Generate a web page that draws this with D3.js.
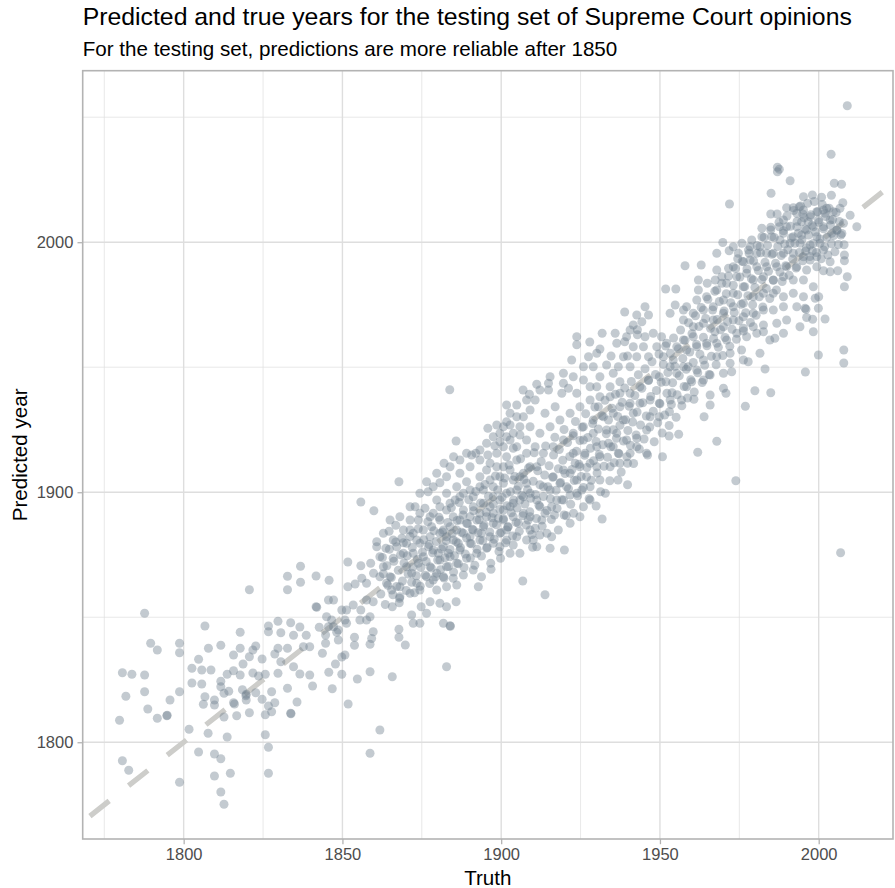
<!DOCTYPE html>
<html>
<head>
<meta charset="utf-8">
<script src="https://cdn.jsdelivr.net/npm/d3@7"></script>
<style>
  body { margin: 0; background: #fff; }
  text { font-family: "Liberation Sans", Arial, Helvetica, sans-serif; }
</style>
</head>
<body>
<script>
// text of the chart
var titleText = "Predicted and true years for the testing set of Supreme Court opinions";
var subtitleText = "For the testing set, predictions are more reliable after 1850";
var xLabel = "Truth";
var yLabel = "Predicted year";

// ticks
var xTicks = [1800, 1850, 1900, 1950, 2000];
var xMinorTicks = [1775, 1825, 1875, 1925, 1975];
var yTicks = [1800, 1900, 2000];
var yMinorTicks = [1850, 1950, 2050];

// [truth, predicted] per opinion
var earlyCases = [
  [1787.7,1851.6],[1789.6,1839.6],[1791.7,1836.9],[1798.7,1839.6],[1798.7,1835.8],[1806.7,1846.5],[1807.8,1837.6],[1811.7,1838.8],
  [1817.8,1844.0],[1820.7,1861.0],[1832.7,1866.4],[1836.8,1870.4],[1832.7,1861.0],[1836.8,1864.0],[1841.7,1866.5],[1845.8,1864.8],
  [1841.7,1854.2],[1841.9,1854.0],[1780.7,1827.8],[1783.7,1827.2],[1787.7,1826.9],[1781.8,1818.4],[1787.7,1820.2],[1788.7,1813.3],
  [1791.7,1809.6],[1794.7,1810.6],[1794.8,1810.8],[1795.7,1816.9],[1798.7,1820.2],[1779.8,1808.8],[1802.6,1829.6],[1805.7,1828.9],
  [1808.6,1828.9],[1802.6,1823.7],[1805.7,1823.3],[1804.7,1833.2],[1806.7,1818.2],[1806.2,1815.2],[1809.7,1816.9],[1809.7,1814.9],
  [1811.7,1824.4],[1811.7,1822.2],[1812.7,1819.6],[1813.7,1827.2],[1815.7,1828.6],[1815.7,1834.9],[1817.8,1837.6],[1817.8,1826.9],
  [1818.7,1831.3],[1820.7,1834.2],[1821.8,1836.9],[1822.7,1838.5],[1824.7,1833.3],[1825.7,1827.2],[1826.7,1846.5],[1826.7,1844.2],
  [1829.7,1848.4],[1830.6,1843.8],[1833.7,1847.8],[1834.6,1842.8],[1836.6,1846.1],[1838.6,1842.8],[1839.7,1838.2],[1837.7,1838.2],
  [1829.7,1837.6],[1828.7,1835.3],[1830.6,1832.2],[1829.7,1827.6],[1832.7,1837.6],[1834.6,1830.2],[1836.6,1827.3],[1839.7,1826.9],
  [1840.6,1822.5],[1832.7,1821.6],[1835.7,1816.1],[1827.7,1820.2],[1824.7,1817.2],[1826.7,1814.5],[1828.7,1815.8],[1827.7,1812.2],
  [1825.7,1811.0],[1820.7,1811.8],[1816.7,1810.6],[1812.7,1810.1],[1815.7,1815.8],[1819.7,1819.2],[1819.7,1816.9],[1822.7,1819.8],
  [1823.6,1826.5],[1821.8,1827.7],[1833.7,1811.6],[1833.8,1811.4],[1801.7,1805.2],[1807.7,1803.6],[1813.7,1802.1],[1825.7,1803.0],
  [1826.7,1798.0],[1780.7,1792.6],[1782.7,1788.8],[1798.7,1784.0],[1804.7,1796.1],[1809.7,1795.3],[1811.7,1793.4],[1809.7,1786.5],
  [1814.7,1787.6],[1811.7,1780.1],[1812.7,1775.2],[1826.7,1787.6],[1845.7,1828.0],[1846.8,1821.4],[1849.8,1827.2],[1851.8,1815.3],
  [1814.2,1820.4],[1816.0,1815.3],[1819.6,1818.6],[1818.5,1821.0],[1854.7,1825.3],[1858.7,1828.2],[1858.7,1795.6],[1861.8,1804.9],
  [1853.8,1842.0],[1853.8,1838.8],[1858.7,1839.2],[1859.7,1844.2],[1858.7,1850.2],[1859.7,1856.2],[1847.8,1831.3],[1849.8,1834.1],
  [1850.8,1834.9],[1843.7,1835.6],[1844.7,1839.6],[1844.7,1842.9],[1846.6,1848.9],[1848.7,1840.9],[1848.7,1844.9],[1850.8,1848.9],
  [1851.3,1852.9],[1849.8,1852.9],[1847.2,1856.9],[1845.6,1856.9],[1842.7,1846.0],[1845.0,1850.2],[1845.6,1846.2],[1847.2,1846.2],
  [1848.2,1844.0],[1851.3,1847.6],[1857.6,1848.9],[1855.5,1848.9],[1855.8,1852.9],[1853.4,1854.9],[1857.6,1856.9],[1859.2,1841.5]
];

var midCases = [
  [1865.7,1854.2],[1867.9,1855.8],[1867.8,1845.2],[1867.8,1842.0],[1869.8,1838.9],[1871.8,1850.9],[1872.3,1847.6],[1874.4,1847.6],
  [1874.8,1854.2],[1876.5,1851.6],[1877.6,1856.2],[1880.7,1855.6],[1881.8,1847.6],[1883.9,1846.6],[1884.0,1846.4],[1882.8,1854.2],
  [1885.8,1856.2],[1882.8,1830.2],[1865.7,1826.2],[1913.8,1859.0],
  [1883.8,1941.0],[1867.8,1904.2],[1855.8,1896.1],[1859.9,1892.6],[1851.7,1872.1],[1851.7,1862.2],[1855.8,1870.6],[1864.7,1884.4],
  [1866.8,1886.8],[1860.8,1880.2],[1860.8,1878.2],[1863.7,1877.6],[1861.8,1874.2],[1858.9,1871.6],[1859.8,1867.6],[1857.6,1863.6],
  [1856.1,1865.6],[1854.0,1863.3],[1862.9,1870.2],[1865.0,1866.2],[1868.1,1862.2],[1866.0,1873.6],[1869.2,1875.6],[1868.7,1881.6],
  [1871.3,1884.9],[1872.9,1894.2],[1876.0,1893.6],[1873.9,1888.9],[1876.5,1904.2],[1877.0,1900.2],[1879.7,1907.6],[1880.7,1903.8],
  [1882.0,1911.6],[1883.9,1910.2],[1885.8,1920.5],[1885.0,1914.2],[1887.0,1907.6],[1890.7,1914.9],[1892.0,1915.6],[1895.8,1925.6],
  [1895.8,1914.9],[1898.0,1918.6],[1899.6,1920.2],[1901.7,1928.2],[1902.8,1926.9],[1904.9,1934.9],[1906.9,1940.9],[1908.9,1939.2],
  [1907.0,1930.2],[1905.9,1922.9],[1903.8,1917.6],[1901.7,1914.2],[1900.7,1910.2],[1898.6,1910.2],[1895.4,1908.9],[1893.3,1906.2],
  [1889.1,1904.2],[1886.0,1902.2],[1882.8,1899.6],[1879.7,1896.9],[1878.6,1891.6],[1880.7,1888.9],[1882.8,1892.9],[1885.5,1896.9],
  [1888.1,1899.6],[1891.2,1898.2],[1894.4,1900.9],[1897.5,1902.2],[1900.7,1903.6],[1903.8,1904.9],[1907.0,1907.6],[1909.1,1910.2],
  [1908.0,1915.6],[1904.9,1912.9],[1899.6,1896.9],[1902.8,1894.2],[1905.9,1896.9],[1909.1,1899.6],[1896.5,1894.2],[1893.3,1891.6],
  [1890.2,1890.2],[1887.0,1888.9],[1883.9,1886.2],[1880.7,1883.6],[1877.6,1882.2],[1874.4,1879.6],[1872.3,1875.6],[1875.5,1874.2],
  [1878.6,1876.9],[1881.8,1878.2],[1884.9,1880.9],[1888.1,1883.6],[1891.2,1884.9],[1894.4,1886.2],[1897.5,1887.6],[1900.7,1888.9],
  [1903.8,1890.2],[1907.0,1891.6],[1909.1,1890.2],[1904.9,1882.2],[1909.1,1884.9],[1909.9,1878.0],[1903.8,1878.9],[1899.8,1873.6],
  [1896.8,1869.2],[1893.8,1866.2],[1892.8,1862.2],[1895.4,1877.6],[1892.3,1875.6],[1889.1,1873.6],[1886.0,1871.6],[1882.8,1870.2],
  [1879.7,1867.6],[1876.5,1866.2],[1873.4,1863.6],[1879.7,1860.9],[1886.0,1862.9],[1882.8,1862.2],[1906.8,1864.5],
  [1870.2,1870.2],[1871.8,1867.6],[1873.9,1871.6],[1877.6,1870.2],[1880.7,1872.9],[1883.9,1874.2],[1887.0,1876.9],[1890.2,1879.6],
  [1893.3,1880.9],[1896.5,1882.2],[1899.6,1883.6],[1901.7,1884.9],[1899.6,1878.2],[1902.8,1875.6],[1905.9,1875.6],[1908.0,1880.9],
  [1891.2,1868.9],[1888.1,1866.9],[1884.9,1865.6],[1881.8,1866.2],[1878.6,1864.9],[1874.4,1860.9],[1871.3,1859.6],[1868.1,1858.2],
  [1865.5,1860.9],[1863.9,1863.6],[1861.8,1866.2],[1870.2,1879.6],[1867.1,1878.2],[1872.3,1883.6],[1875.5,1884.9],[1878.1,1886.2],
  [1881.8,1884.9],[1884.9,1890.2],[1888.1,1892.9],[1891.2,1894.2],[1894.4,1895.6],[1897.5,1898.2],[1901.7,1899.6],[1904.9,1900.9],
  [1908.0,1903.6],[1905.9,1906.2],[1902.8,1908.9],[1899.6,1906.2],[1896.5,1904.9],[1893.3,1902.2],[1890.2,1900.9],[1887.0,1898.2],
  [1883.9,1895.6],[1880.7,1894.2],[1877.6,1890.2],[1874.4,1891.6],[1871.3,1888.9],[1869.2,1884.9],[1866.0,1880.9],[1887.0,1912.9],
  [1890.2,1910.2],[1893.3,1912.9],[1896.5,1911.6],[1898.6,1915.6],[1900.7,1918.2],[1902.8,1920.9],[1904.9,1918.2],[1908.0,1920.9],
  [1909.1,1926.2],[1905.9,1926.2],[1903.8,1923.6],[1901.7,1922.2],[1899.6,1923.6],[1897.5,1922.2],[1895.4,1919.6],[1893.3,1916.9],
  [1889.1,1915.6],[1882.8,1906.2],[1878.6,1902.2],[1874.4,1899.6],[1871.3,1894.2],[1868.1,1890.2],[1865.0,1888.9],[1862.9,1883.6],
  [1909.1,1932.9],[1904.9,1930.2],[1902.8,1931.6],[1901.7,1934.9],[1900.7,1926.2],[1898.6,1926.9],[1908.0,1936.9],
  [1897.5,1891.6],[1900.7,1892.9],[1903.8,1895.6],[1907.0,1898.2],[1901.7,1880.9],[1897.5,1879.6],[1893.8,1883.6],[1890.2,1882.2],
  [1886.5,1879.6],[1883.4,1875.6],[1880.2,1875.6],[1877.1,1878.2],[1873.4,1880.9],[1882.8,1882.2],[1886.0,1884.9],[1889.1,1887.6],
  [1892.3,1888.9],[1895.4,1890.2],[1899.1,1889.6],[1902.2,1886.2],[1905.4,1887.6],[1908.5,1888.9]
];

var lateCases = [
  [1938.9,1972.1],[1931.8,1963.6],[1923.8,1962.2],[1923.8,1959.0],[1927.9,1960.1],[1931.1,1957.3],[1934.6,1954.5],[1938.9,1960.2],
  [1942.9,1965.0],[1942.9,1963.0],[1939.8,1954.5],[1911.2,1943.2],[1914.9,1943.6],[1914.9,1940.9],[1910.7,1936.9],[1919.1,1939.6],
  [1922.7,1946.2],[1921.2,1941.6],[1925.9,1944.9],[1930.1,1942.2],[1933.2,1950.9],[1935.3,1947.6],[1937.4,1944.2],[1940.6,1950.2],
  [1942.7,1954.2],[1944.8,1958.2],[1946.4,1954.2],[1947.9,1963.6],[1930.6,1934.2],[1934.3,1938.2],[1937.4,1934.2],[1940.6,1939.6],
  [1943.7,1942.2],[1946.4,1944.9],[1946.9,1930.2],[1945.8,1924.9],[1942.7,1921.6],[1936.9,1915.6],[1939.8,1911.6],[1939.8,1903.0],
  [1936.8,1904.9],[1932.8,1899.6],[1931.8,1889.3],[1929.9,1894.5],[1925.9,1894.2],[1922.8,1891.6],[1919.8,1890.9],[1916.8,1890.9],
  [1919.9,1876.9],[1915.9,1882.2],[1915.4,1877.6],[1912.2,1882.9],[1910.7,1885.6],[1925.4,1900.9],[1921.7,1898.9],[1926.9,1906.2],
  [1930.1,1910.2],[1934.3,1910.2],[1937.4,1911.6],[1933.8,1919.6],[1930.1,1918.2],[1926.4,1915.6],[1923.3,1911.6],[1919.6,1908.9],
  [1916.4,1906.2],[1913.3,1902.2],[1911.2,1896.9],[1913.8,1891.6],[1917.5,1896.9],[1920.6,1902.2],[1923.8,1904.9],[1912.8,1888.9],
  [1910.1,1880.9],[1911.2,1910.2],[1913.3,1915.6],[1916.4,1918.2],[1919.6,1920.9],[1922.7,1923.6],[1925.9,1926.2],[1929.0,1928.9],
  [1932.2,1930.2],[1935.3,1931.6],[1938.5,1928.9],[1941.6,1931.6],[1943.7,1935.6],[1940.6,1935.6],[1937.4,1939.6],[1934.3,1942.2],
  [1931.1,1938.2],[1928.0,1936.9],[1924.8,1934.2],[1921.7,1931.6],[1918.5,1928.9],[1915.4,1926.2],[1912.2,1923.6],[1910.7,1918.2],
  [1913.8,1931.6],[1917.0,1934.2],[1923.8,1939.6],[1928.0,1942.2],[1931.1,1946.2],[1929.0,1950.2],[1925.9,1950.2],[1919.6,1943.6],
  [1936.9,1950.2],[1938.5,1954.2],[1941.6,1958.2],[1945.3,1962.2],[1939.5,1962.2],[1936.4,1959.6],[1935.9,1963.6],[1941.6,1966.9],
  [1944.3,1968.2],[1946.4,1970.9],[1942.7,1970.9],[1945.3,1974.2],[1940.6,1964.9],[1930.1,1955.6],[1927.5,1954.2],[1922.2,1952.9],
  [1919.6,1947.6],[1915.4,1946.2],[1912.2,1940.9],[1922.7,1915.6],[1925.9,1920.9],[1929.0,1923.6],[1933.2,1924.9],[1936.4,1923.6],
  [1939.5,1920.9],[1942.7,1918.2],[1940.6,1915.6],[1935.3,1918.2],[1931.1,1914.2],[1928.0,1911.6],[1924.8,1910.2],[1921.7,1907.6],
  [1918.5,1903.6],[1915.4,1900.9],[1919.6,1896.9],[1923.8,1899.6],[1928.0,1902.2],[1931.1,1904.9],[1928.0,1896.9],[1924.8,1890.2],
  [1921.7,1887.6],[1918.0,1884.9],[1914.4,1883.6],[1911.2,1878.2],[1912.2,1894.2],[1915.9,1894.2],[1945.8,1915.6],
  [1950.8,1914.2],[1952.9,1922.5],[1955.9,1923.2],[1961.9,1916.0],[1967.9,1920.4],[1973.9,1904.6],[1963.9,1930.2],[1960.7,1937.2],
  [1965.8,1938.9],[1965.8,1934.9],[1970.0,1941.6],[1970.8,1939.6],[1976.9,1934.4],[1979.9,1940.6],[1984.9,1939.8],[1983.1,1949.3],
  [1995.8,1948.1],[1999.9,1954.9],[2007.9,1956.9],[2007.9,1951.7],[2006.9,1875.8],[1949.8,1930.2],[1953.0,1932.2],[1949.8,1935.6],
  [1953.8,1939.8],[1951.9,1944.2],[1955.3,1947.6],[1958.9,1950.2],[1960.0,1944.2],[1963.7,1944.9],[1965.8,1946.9],[1970.0,1947.6],
  [1972.6,1948.2],[1972.1,1951.6],[1976.3,1952.9],[1977.8,1952.2],[1981.5,1955.6],[1984.6,1960.9],[1986.2,1961.6],[1975.7,1956.9],
  [1972.1,1955.6],[1967.9,1954.2],[1963.7,1952.9],[1961.6,1948.9],[1957.4,1950.2],[1954.2,1952.9],[1951.1,1954.2],[1949.0,1958.2],
  [1952.1,1959.6],[1955.3,1958.2],[1958.4,1956.9],[1961.6,1958.2],[1964.7,1959.6],[1967.9,1959.6],[1971.0,1960.9],[1974.2,1963.6],
  [1977.3,1962.2],[1980.5,1963.6],[1982.6,1964.2],[1988.9,1963.6],[1998.3,1964.2],[1957.4,1960.9],[1960.5,1962.2],[1967.3,1964.2],
  [1950.5,1962.2],[1949.8,1946.2],[1953.2,1950.2],[1946.9,1936.9],[1953.2,1936.9],[1958.4,1942.2],[1956.8,1936.9]
];

var recentCases = [
  [2009.0,2054.6],[2003.9,2035.2],[1987.0,2030.0],[1987.6,2029.2],[1987.0,2028.2],[1991.0,2024.6],[1971.9,2015.3],[1985.0,2019.6],
  [2004.9,2023.6],[2007.2,2023.2],[2004.0,2018.8],[1995.2,2018.2],[1998.0,2018.9],[2000.9,2018.0],[2002.5,2013.6],[2001.5,2012.9],
  [2007.6,2015.8],[2006.7,2013.6],[2009.9,2010.8],[2012.0,2006.2],[2007.8,2007.6],[2005.7,2004.9],[2007.0,2002.9],[2008.1,1994.9],
  [2008.1,1992.6],[2009.0,1986.2],[2008.1,1982.2],[2003.6,1988.2],[2006.0,1988.6],[2001.5,1988.6],[2003.6,1992.2],[2001.5,1996.9],
  [1999.4,1994.2],[1995.9,1996.5],[1998.0,1996.5],[1989.9,2013.8],[1992.0,2013.8],[1993.9,2014.2],[1984.9,2011.3],[1986.9,2011.3],
  [1988.9,2008.9],[1995.0,2011.3],[1997.3,2010.2],[1999.4,2012.2],[1982.1,2005.6],[1984.9,2006.0],[1982.1,2002.2],[1989.9,2006.2],
  [1993.1,2006.2],[1996.2,2004.9],[1994.6,2002.9],[1998.3,2006.2],[2003.6,2008.9],[2001.5,2006.2],[2004.1,2003.6],[1999.4,2002.2],
  [2000.4,1999.6],[1997.3,1998.9],[1994.1,1999.6],[1991.0,1999.6],[1987.8,2000.9],[1985.2,2002.2],[1978.4,1998.2],[1977.9,1996.9],
  [1978.9,2000.9],[1969.8,1999.9],[1967.9,1995.6],[1971.8,1996.6],[1974.5,1993.4],[1957.9,1990.6],[1963.0,1990.9],[1951.8,1981.3],
  [1955.0,1981.3],[1962.1,1984.9],[1964.9,1983.6],[1962.1,1980.9],[1967.9,1988.9],[1971.6,1989.6],[1967.4,1984.9],[1969.5,1986.2],
  [1973.1,1990.2],[1976.3,1992.2],[1981.5,1998.2],[1983.6,1995.6],[1985.7,1995.6],[1988.9,1995.6],[1992.0,1995.6],[1995.2,1994.2],
  [1997.3,1992.9],[1999.4,1990.2],[1996.2,1988.9],[1993.1,1990.2],[1989.9,1990.2],[1986.8,1990.2],[1983.6,1990.2],[1980.5,1990.2],
  [1977.3,1987.6],[1974.2,1986.2],[1971.0,1983.6],[1967.9,1980.9],[1964.7,1978.2],[1961.6,1976.9],[1958.4,1974.2],[1954.8,1974.9],
  [1957.4,1972.9],[1953.2,1971.6],[1957.4,1968.9],[1960.5,1971.6],[1963.7,1972.9],[1966.8,1974.2],[1970.0,1976.9],[1973.1,1979.6],
  [1976.3,1982.2],[1979.4,1984.9],[1982.6,1986.2],[1985.7,1984.9],[1988.9,1986.2],[1992.0,1984.9],[1995.2,1984.9],[1998.3,1982.2],
  [1995.2,1978.2],[1992.0,1979.6],[1988.9,1978.2],[1985.7,1979.6],[1982.6,1979.6],[1979.4,1978.2],[1976.3,1975.6],[1973.1,1974.2],
  [1970.0,1971.6],[1966.8,1968.9],[1963.7,1967.6],[1960.5,1966.2],[1970.0,1966.2],[1973.1,1968.9],[1976.3,1970.2],[1979.4,1971.6],
  [1982.6,1972.9],[1985.7,1972.9],[1988.9,1974.2],[1993.1,1974.2],[1995.7,1973.6],[1998.9,1977.6],[1999.9,1973.6],[1996.2,1969.9],
  [1998.1,1969.2],[2002.0,1969.3],[1989.9,1968.9],[1986.8,1967.6],[1982.6,1966.9],[1979.4,1966.2],[1976.3,1965.6],[1994.1,1966.2],
  [1978.4,1992.9],[1980.5,1995.6],[1987.6,2006.2],[1988.9,2003.6],[1992.0,2002.2],[1994.6,2008.2],[1996.7,2008.2],[1999.9,2008.9],
  [2002.0,2011.6],[2004.6,2012.2],[1995.2,2012.9],[1993.1,2011.6],[1973.1,1998.2],[1975.8,1999.6],[1974.7,1995.6],[2000.0,1978.2],
  [1996.0,1973.2]
];

// the dense middle of the cloud
var coreCases = [
  [1862.1,1859.3],[1862.9,1867.4],[1862.6,1873.9],[1863.5,1855.1],[1864.3,1862.8],[1864.0,1870.6],[1864.8,1877.2],[1865.4,1865.9],
  [1865.9,1859.0],[1866.2,1872.4],[1866.8,1880.1],[1867.1,1862.3],[1867.6,1868.8],[1868.3,1875.0],[1868.0,1857.6],[1868.9,1864.5],
  [1869.4,1871.7],[1869.2,1879.8],[1870.1,1860.7],[1870.7,1867.3],[1870.4,1874.6],[1871.3,1882.3],[1871.8,1864.0],[1872.2,1870.1],
  [1872.0,1877.9],[1872.7,1859.8],[1873.3,1866.6],[1873.6,1873.2],[1873.9,1885.4],[1874.5,1862.4],[1874.7,1869.9],[1875.2,1876.1],
  [1875.6,1881.0],[1876.1,1866.8],[1876.4,1872.3],[1876.9,1888.2],[1877.3,1879.1],[1877.5,1863.5],[1878.0,1869.7],[1878.4,1875.8],
  [1878.8,1884.6],[1879.3,1866.2],[1879.6,1880.3],[1880.0,1872.9],[1880.4,1890.0],[1880.9,1869.0],[1881.2,1877.3],[1881.5,1884.1],
  [1882.0,1865.7],[1882.3,1873.8],[1882.7,1880.6],[1883.2,1887.9],[1883.4,1870.3],[1883.9,1877.1],[1884.3,1893.8],[1884.6,1883.5],
  [1885.0,1868.1],[1885.3,1874.6],[1885.8,1880.2],[1886.1,1888.7],[1886.5,1871.4],[1886.8,1895.9],[1887.2,1877.8],[1887.5,1884.0],
  [1888.0,1890.9],[1888.3,1869.9],[1888.7,1875.3],[1889.1,1881.7],[1889.4,1887.5],[1889.8,1897.0],[1890.3,1873.7],[1890.6,1879.4],
  [1890.9,1885.2],[1891.3,1892.6],[1891.7,1870.8],[1892.0,1900.3],[1892.4,1877.2],[1892.7,1883.8],[1893.1,1889.0],[1893.5,1895.7],
  [1893.8,1874.5],[1894.2,1880.6],[1894.6,1886.9],[1894.9,1903.1],[1895.3,1892.0],[1895.6,1877.9],[1896.0,1898.4],[1896.4,1884.1],
  [1896.7,1871.6],[1897.1,1889.8],[1897.5,1895.2],[1897.8,1881.2],[1898.2,1906.5],[1898.5,1887.0],[1898.9,1900.9],[1899.3,1876.3],
  [1899.6,1893.1],[1900.0,1883.9],[1900.3,1898.0],[1900.7,1889.4],[1901.1,1905.7],[1901.4,1879.8],[1901.8,1894.6],[1902.1,1886.1],
  [1902.5,1910.9],[1902.9,1900.2],[1903.2,1891.8],[1903.6,1882.5],[1903.9,1896.9],[1904.3,1906.3],[1904.7,1888.0],[1905.0,1893.7],
  [1905.4,1902.4],[1905.7,1884.4],[1906.1,1913.4],[1906.5,1898.8],[1906.8,1890.6],[1907.2,1905.1],[1907.5,1895.3],[1907.9,1886.9],
  [1908.3,1901.0],[1908.6,1909.7],[1909.0,1892.2],[1909.3,1897.6],[1909.7,1883.1],[1910.1,1904.4],[1910.4,1915.8],[1910.8,1899.1],
  [1911.1,1889.5],[1911.5,1908.6],[1911.9,1894.8],[1912.2,1903.0],[1912.6,1912.3],[1912.9,1886.4],[1913.3,1898.3],[1913.7,1906.9],
  [1914.0,1918.5],[1914.4,1892.7],[1914.7,1902.2],[1915.1,1910.6],[1915.5,1897.4],[1915.8,1889.1],[1916.2,1906.0],[1916.5,1914.9],
  [1916.9,1922.0],[1917.3,1900.8],[1917.6,1893.5],[1918.0,1909.4],[1918.3,1917.1],[1918.7,1903.9],[1919.1,1897.0],[1919.4,1912.8],
  [1919.8,1925.1],[1920.1,1907.5],[1920.5,1890.6],[1920.9,1919.9],[1921.2,1901.4],[1921.6,1914.3],[1921.9,1895.2],[1922.3,1909.1],
  [1922.7,1922.6],[1923.0,1904.7],[1923.4,1928.3],[1923.7,1916.4],[1924.1,1898.6],[1924.5,1911.2],[1924.8,1920.7],[1925.2,1906.3],
  [1925.5,1926.0],[1925.9,1901.9],[1926.3,1914.8],[1926.6,1931.4],[1927.0,1909.9],[1927.3,1921.9],[1927.7,1897.4],[1928.1,1917.6],
  [1928.4,1904.8],[1928.8,1927.5],[1929.1,1912.6],[1929.5,1934.1],[1929.9,1920.3],[1930.2,1907.7],[1930.6,1925.3],[1930.9,1915.1],
  [1931.3,1900.2],[1931.7,1930.6],[1932.0,1919.0],[1932.4,1910.4],[1932.7,1936.8],[1933.1,1923.4],[1933.5,1914.0],[1933.8,1928.9],
  [1934.2,1904.6],[1934.5,1918.2],[1934.9,1933.6],[1935.3,1925.0],[1935.6,1911.8],[1936.0,1939.2],[1936.3,1921.6],[1936.7,1930.3],
  [1937.1,1915.4],[1937.4,1926.8],[1937.8,1908.1],[1938.1,1936.0],[1938.5,1920.5],[1938.9,1941.7],[1939.2,1929.0],[1939.6,1914.2],
  [1939.9,1924.7],[1940.3,1934.4],[1940.7,1918.8],[1941.0,1944.3],[1941.4,1928.1],[1941.7,1911.5],[1942.1,1938.7],[1942.5,1922.9],
  [1942.8,1932.1],[1943.2,1947.0],[1943.5,1917.3],[1943.9,1926.9],[1944.3,1941.6],[1944.6,1935.8],[1945.0,1921.3],[1945.3,1949.4],
  [1945.7,1930.5],[1946.1,1914.9],[1946.4,1944.7],[1946.8,1926.1],[1947.1,1938.3],[1947.5,1952.2],[1947.9,1932.4],[1948.2,1920.2],
  [1948.6,1947.1],[1948.9,1940.7],[1949.3,1927.8],[1949.7,1955.3],[1950.0,1935.4],[1950.4,1944.0],[1950.7,1923.7],[1951.1,1951.1],
  [1951.5,1930.9],[1951.8,1958.5],[1952.2,1939.6],[1952.5,1947.9],[1952.9,1926.7],[1953.3,1955.6],[1953.6,1935.1],[1954.0,1943.8],
  [1954.3,1961.7],[1954.7,1950.4],[1955.1,1930.0],[1955.4,1939.0],[1955.8,1957.4],[1956.1,1946.6],[1956.5,1964.9],[1956.9,1934.6],
  [1957.2,1953.5],[1957.6,1942.3],[1957.9,1960.8],[1958.3,1949.2],[1958.7,1937.7],[1959.0,1967.8],[1959.4,1956.1],[1959.7,1945.0],
  [1960.1,1963.4],[1960.5,1951.9],[1960.8,1940.1],[1961.2,1970.6],[1961.5,1959.1],[1961.9,1947.8],[1962.3,1966.3],[1962.6,1955.2],
  [1963.0,1973.9],[1963.3,1943.9],[1963.7,1962.0],[1964.1,1950.8],[1964.4,1969.5],[1964.8,1958.6],[1965.1,1977.2],[1965.5,1947.1],
  [1965.9,1965.6],[1966.2,1954.4],[1966.6,1972.9],[1966.9,1961.5],[1967.3,1980.4],[1967.7,1951.0],[1968.0,1969.1],[1968.4,1958.0],
  [1968.7,1976.3],[1969.1,1965.0],[1969.5,1983.6],[1969.8,1954.7],[1970.2,1972.5],[1970.5,1961.9],[1970.9,1979.4],[1971.3,1968.3],
  [1971.6,1986.5],[1972.0,1958.4],[1972.3,1975.8],[1972.7,1965.2],[1973.1,1982.8],[1973.4,1971.9],[1973.8,1989.5],[1974.1,1961.2],
  [1974.5,1979.0],[1974.9,1968.6],[1975.2,1986.1],[1975.6,1975.2],[1975.9,1992.4],[1976.3,1964.5],[1976.7,1982.2],[1977.0,1971.8],
  [1977.4,1989.3],[1977.7,1978.6],[1978.1,1995.6],[1978.5,1967.9],[1978.8,1985.4],[1979.2,1975.0],[1979.5,1992.5],[1979.9,1981.9],
  [1980.3,1970.8],[1980.6,1998.7],[1981.0,1988.7],[1981.3,1978.2],[1981.7,1995.8],[1982.1,1985.1],[1982.4,1974.1],[1982.8,2001.9],
  [1983.1,1992.0],[1983.5,1981.5],[1983.9,1998.8],[1984.2,1988.4],[1984.6,1977.5],[1984.9,2004.9],[1985.3,1995.2],[1985.7,1984.8],
  [1986.0,2001.9],[1986.4,1991.6],[1986.7,1980.9],[1987.1,1998.3],[1987.5,2008.0],[1987.8,1988.1],[1988.2,1994.7],[1988.5,1984.3],
  [1988.9,2004.6],[1989.3,1999.3],[1989.6,1990.6],[1990.0,2010.5],[1990.3,1997.0],[1990.7,1986.8],[1991.1,2006.4],[1991.4,2001.8],
  [1991.8,1993.3],[1992.1,2012.7],[1992.5,1999.6],[1992.9,1989.7],[1993.2,2008.4],[1993.6,2003.6],[1993.9,1995.9],[1994.3,2014.5],
  [1994.7,2001.0],[1995.0,1992.6],[1995.4,2009.8],[1995.7,2005.3],[1996.1,1997.8],[1996.5,2015.6],[1996.8,2002.9],[1997.2,1994.3],
  [1997.5,2011.0],[1997.9,2006.8],[1998.3,1999.5],[1998.6,2016.3],[1999.0,2004.1],[1999.3,1995.9],[1999.7,2012.2],[2000.1,2008.0],
  [2000.4,2001.3],[2000.8,1993.4],[2001.1,2015.1],[2001.5,2005.4],[2001.9,1998.2],[2002.2,2010.3],[2002.6,2002.0],[2002.9,1994.9],
  [2003.3,2013.6],[2003.7,2006.9],[2004.0,1999.4],[2004.4,2009.1],[2004.7,2002.7],[2005.1,1996.2],[2005.5,2011.9],[2005.8,2004.8],
  [2006.2,1999.1],[2006.5,2008.3],[2007.3,2003.5],[2008.0,1999.0]
];

var cases = [].concat(earlyCases, midCases, lateCases, recentCases, coreCases);

window.onload = function() {
  makeChart(cases);
};

function makeChart(data) {
  // size
  var margin = {top: 70.7, right: 2, bottom: 49, left: 82.7};
  var w = 895 - margin.left - margin.right;
  var h = 888 - margin.top - margin.bottom;

  var xScale = d3.scaleLinear().domain([1768.2, 2023.4]).range([0, w]);
  var yScale = d3.scaleLinear().domain([1761.3, 2068.6]).range([h, 0]);

  var svg = d3.select("body")
    .append("svg")
    .attr("width", 895)
    .attr("height", 888)
    .style("display", "block")
    .style("background", "#fff");

  // titles
  svg.append("text")
    .attr("x", margin.left)
    .attr("y", 25)
    .attr("font-size", "24.8px")
    .attr("fill", "#000")
    .text(titleText);
  svg.append("text")
    .attr("x", margin.left)
    .attr("y", 56)
    .attr("font-size", "20.6px")
    .attr("fill", "#000")
    .text(subtitleText);

  var g = svg.append("g")
    .attr("transform", "translate(" + margin.left + "," + margin.top + ")");

  g.append("clipPath").attr("id", "panel")
    .append("rect").attr("width", w).attr("height", h);

  // grid, minor first
  g.selectAll(".xminor").data(xMinorTicks).enter().append("line")
    .attr("x1", function(d) { return xScale(d); })
    .attr("x2", function(d) { return xScale(d); })
    .attr("y1", 0).attr("y2", h)
    .attr("stroke", "#dedede").attr("stroke-width", 0.7);
  g.selectAll(".yminor").data(yMinorTicks).enter().append("line")
    .attr("y1", function(d) { return yScale(d); })
    .attr("y2", function(d) { return yScale(d); })
    .attr("x1", 0).attr("x2", w)
    .attr("stroke", "#dedede").attr("stroke-width", 0.7);
  g.selectAll(".xmajor").data(xTicks).enter().append("line")
    .attr("x1", function(d) { return xScale(d); })
    .attr("x2", function(d) { return xScale(d); })
    .attr("y1", 0).attr("y2", h)
    .attr("stroke", "#dedede").attr("stroke-width", 1.4);
  g.selectAll(".ymajor").data(yTicks).enter().append("line")
    .attr("y1", function(d) { return yScale(d); })
    .attr("y2", function(d) { return yScale(d); })
    .attr("x1", 0).attr("x2", w)
    .attr("stroke", "#dedede").attr("stroke-width", 1.4);

  var panel = g.append("g").attr("clip-path", "url(#panel)");

  // y = x reference line
  var ends = xScale.domain();
  var line = d3.line()
    .x(function(d) { return xScale(d); })
    .y(function(d) { return yScale(d); });
  panel.append("path")
    .datum(ends)
    .attr("d", line)
    .attr("fill", "none")
    .attr("stroke", "#cdcdca")
    .attr("stroke-width", 5.3)
    .attr("stroke-dasharray", "24.5,24.7")
    .attr("stroke-dashoffset", 40);

  // the opinions
  panel.selectAll(".dot")
    .data(data)
    .enter().append("circle")
    .attr("class", "dot")
    .attr("cx", function(d) { return xScale(d[0]); })
    .attr("cy", function(d) { return yScale(d[1]); })
    .attr("r", 4.5)
    .attr("fill", "#708090")
    .attr("fill-opacity", 0.42);

  g.append("rect")
    .attr("width", w).attr("height", h)
    .attr("fill", "none")
    .attr("stroke", "#b3b3b3")
    .attr("stroke-width", 1.6);

  // axes
  var xAxis = d3.axisBottom(xScale).tickValues(xTicks)
    .tickSize(5.2).tickPadding(4.1).tickFormat(d3.format("d"));
  var yAxis = d3.axisLeft(yScale).tickValues(yTicks)
    .tickSize(5.2).tickPadding(4.1).tickFormat(d3.format("d"));

  var xg = g.append("g").attr("transform", "translate(0," + h + ")").call(xAxis);
  var yg = g.append("g").call(yAxis);
  [xg, yg].forEach(function(a) {
    a.select(".domain").remove();
    a.attr("font-size", "16.5px").attr("font-family", null);
    a.selectAll("line").attr("stroke", "#b3b3b3").attr("stroke-width", 1.3);
    a.selectAll("text").attr("fill", "#4d4d4d");
  });

  // axis titles
  svg.append("text")
    .attr("x", margin.left + w / 2)
    .attr("y", 885)
    .attr("text-anchor", "middle")
    .attr("font-size", "20.6px")
    .text(xLabel);
  svg.append("text")
    .attr("transform", "translate(26.5," + (margin.top + h / 2) + ") rotate(-90)")
    .attr("text-anchor", "middle")
    .attr("font-size", "20.6px")
    .text(yLabel);
}
</script>
</body>
</html>
